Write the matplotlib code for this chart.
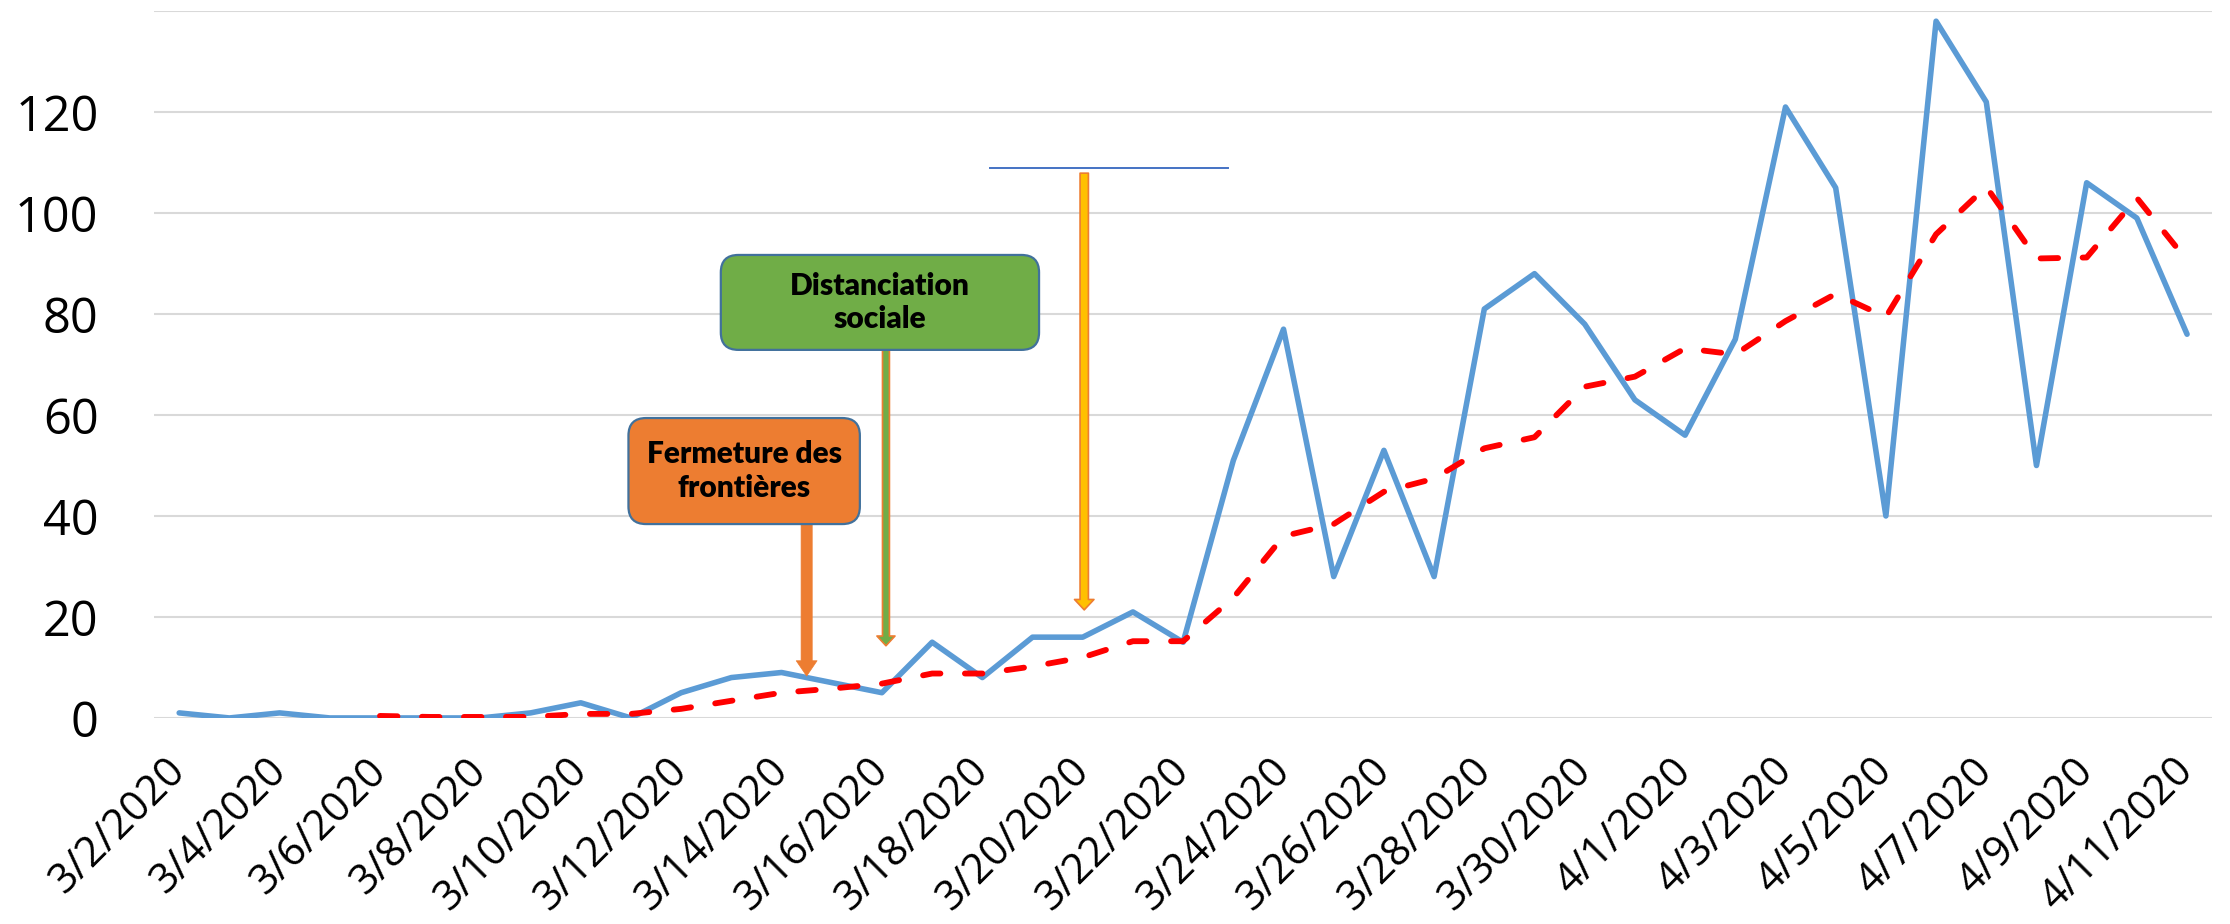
import numpy as np
import pandas as pd
import matplotlib
matplotlib.use("Agg")
import matplotlib.pyplot as plt
from matplotlib.patches import FancyBboxPatch, FancyArrowPatch

# daily values, 3/2/2020 .. 4/11/2020
dates = [f"{d.month}/{d.day}/{d.year}" for d in pd.date_range("2020-03-02", "2020-04-11")]
cases = [1, 0, 1, 0, 0, 0, 0, 1, 3, 0,
         5, 8, 9, 7, 5, 15, 8, 16, 16, 21,
         15, 51, 77, 28, 53, 28, 81, 88, 78, 63,
         56, 75, 121, 105, 40, 138, 122, 50, 106, 99,
         76]
# dashed red curve (starts on 3/6)
trend = [np.nan, np.nan, np.nan, np.nan, 0.4, 0.2, 0.2, 0.2, 0.8, 0.8,
         1.8, 3.4, 5.0, 5.8, 6.8, 8.8, 8.8, 10.2, 12.0, 15.2,
         15.2, 23.8, 36.0, 38.4, 44.8, 47.4, 53.4, 55.6, 65.6, 67.6,
         73.2, 72.0, 78.6, 84.0, 79.4, 95.8, 105.2, 91.0, 91.2, 103.0,
         90.6]
y_ticks = [0, 20, 40, 60, 80, 100, 120, 140]
y_labels = ["0", "20", "40", "60", "80", "100", "120", ""]

BLUE = "#5B9BD5"
EDGE = "#41719C"
ORANGE = "#ED7D31"
GREEN = "#70AD47"
YELLOW = "#FFC000"
TICK_FONT = ["Open Sans", "DejaVu Sans"]
BOX_FONT = ["Lato", "DejaVu Sans"]


def add_box(ax, x0, x1, y0, y1, text, color):
    # aspect: pixels per x unit / pixels per y unit, keeps corners round
    box = FancyBboxPatch((x0, y0), x1 - x0, y1 - y0,
                         boxstyle="round,pad=0,rounding_size=0.35",
                         mutation_aspect=9.9, fc=color, ec=EDGE, lw=1.6,
                         zorder=5)
    ax.add_patch(box)
    ax.text((x0 + x1) / 2, (y0 + y1) / 2, text, ha="center", va="center",
            fontsize=21.5, fontweight="heavy", family=BOX_FONT,
            linespacing=1.25, zorder=6)


def add_arrow(ax, x, y_from, y_to, fc, ec, tail, head_w, head_l, lw=1.0):
    style = "simple,tail_width={},head_width={},head_length={}".format(tail, head_w, head_l)
    arr = FancyArrowPatch((x, y_from), (x, y_to), arrowstyle=style,
                          mutation_scale=10, shrinkA=0, shrinkB=0,
                          fc=fc, ec=ec, lw=lw, zorder=4)
    ax.add_patch(arr)


fig = plt.figure(figsize=(22.3, 9.24), dpi=100)
ax = fig.add_axes([0.0691, 0.223, 0.9229, 0.765])

x = np.arange(len(dates))
ax.plot(x, cases, color=BLUE, lw=4.0, solid_joinstyle="round",
        solid_capstyle="round", zorder=3)
ax.plot(x, trend, color="#FF0000", lw=4.2, dashes=(3.0, 4.2),
        dash_capstyle="round", dash_joinstyle="round", zorder=3)

ax.set_xlim(-0.5, len(dates) - 0.5)
ax.set_ylim(0, 140)
ax.set_yticks(y_ticks)
ax.set_yticklabels(y_labels, family=TICK_FONT, fontsize=35)
ax.set_xticks(x[::2])
ax.set_xticklabels(dates[::2], family=TICK_FONT, fontsize=30,
                   rotation=45, ha="right", va="center",
                   rotation_mode="anchor")
ax.tick_params(axis="y", length=0, pad=40)
ax.tick_params(axis="x", length=0, pad=34)
ax.yaxis.grid(True, color="#D9D9D9", lw=1.5, zorder=0)
ax.set_axisbelow(True)
for s in ax.spines.values():
    s.set_visible(False)

# annotations
add_arrow(ax, 12.5, 38.4, 8.3, ORANGE, ORANGE, 0.8, 1.5, 1.1, lw=0.5)
add_box(ax, 8.95, 13.56, 38.4, 59.4, "Fermeture des\nfrontières", ORANGE)

add_arrow(ax, 14.08, 73.7, 14.3, GREEN, ORANGE, 0.5, 1.3, 0.7, lw=1.2)
add_box(ax, 10.79, 17.13, 72.9, 91.7, "Distanciation\nsociale", GREEN)

add_arrow(ax, 18.03, 107.9, 21.4, YELLOW, ORANGE, 0.6, 1.4, 0.75, lw=1.2)
ax.plot([16.15, 20.9], [108.9, 108.9], color="#4472C4", lw=1.4, zorder=4)

fig.savefig("out.png", dpi=100)
